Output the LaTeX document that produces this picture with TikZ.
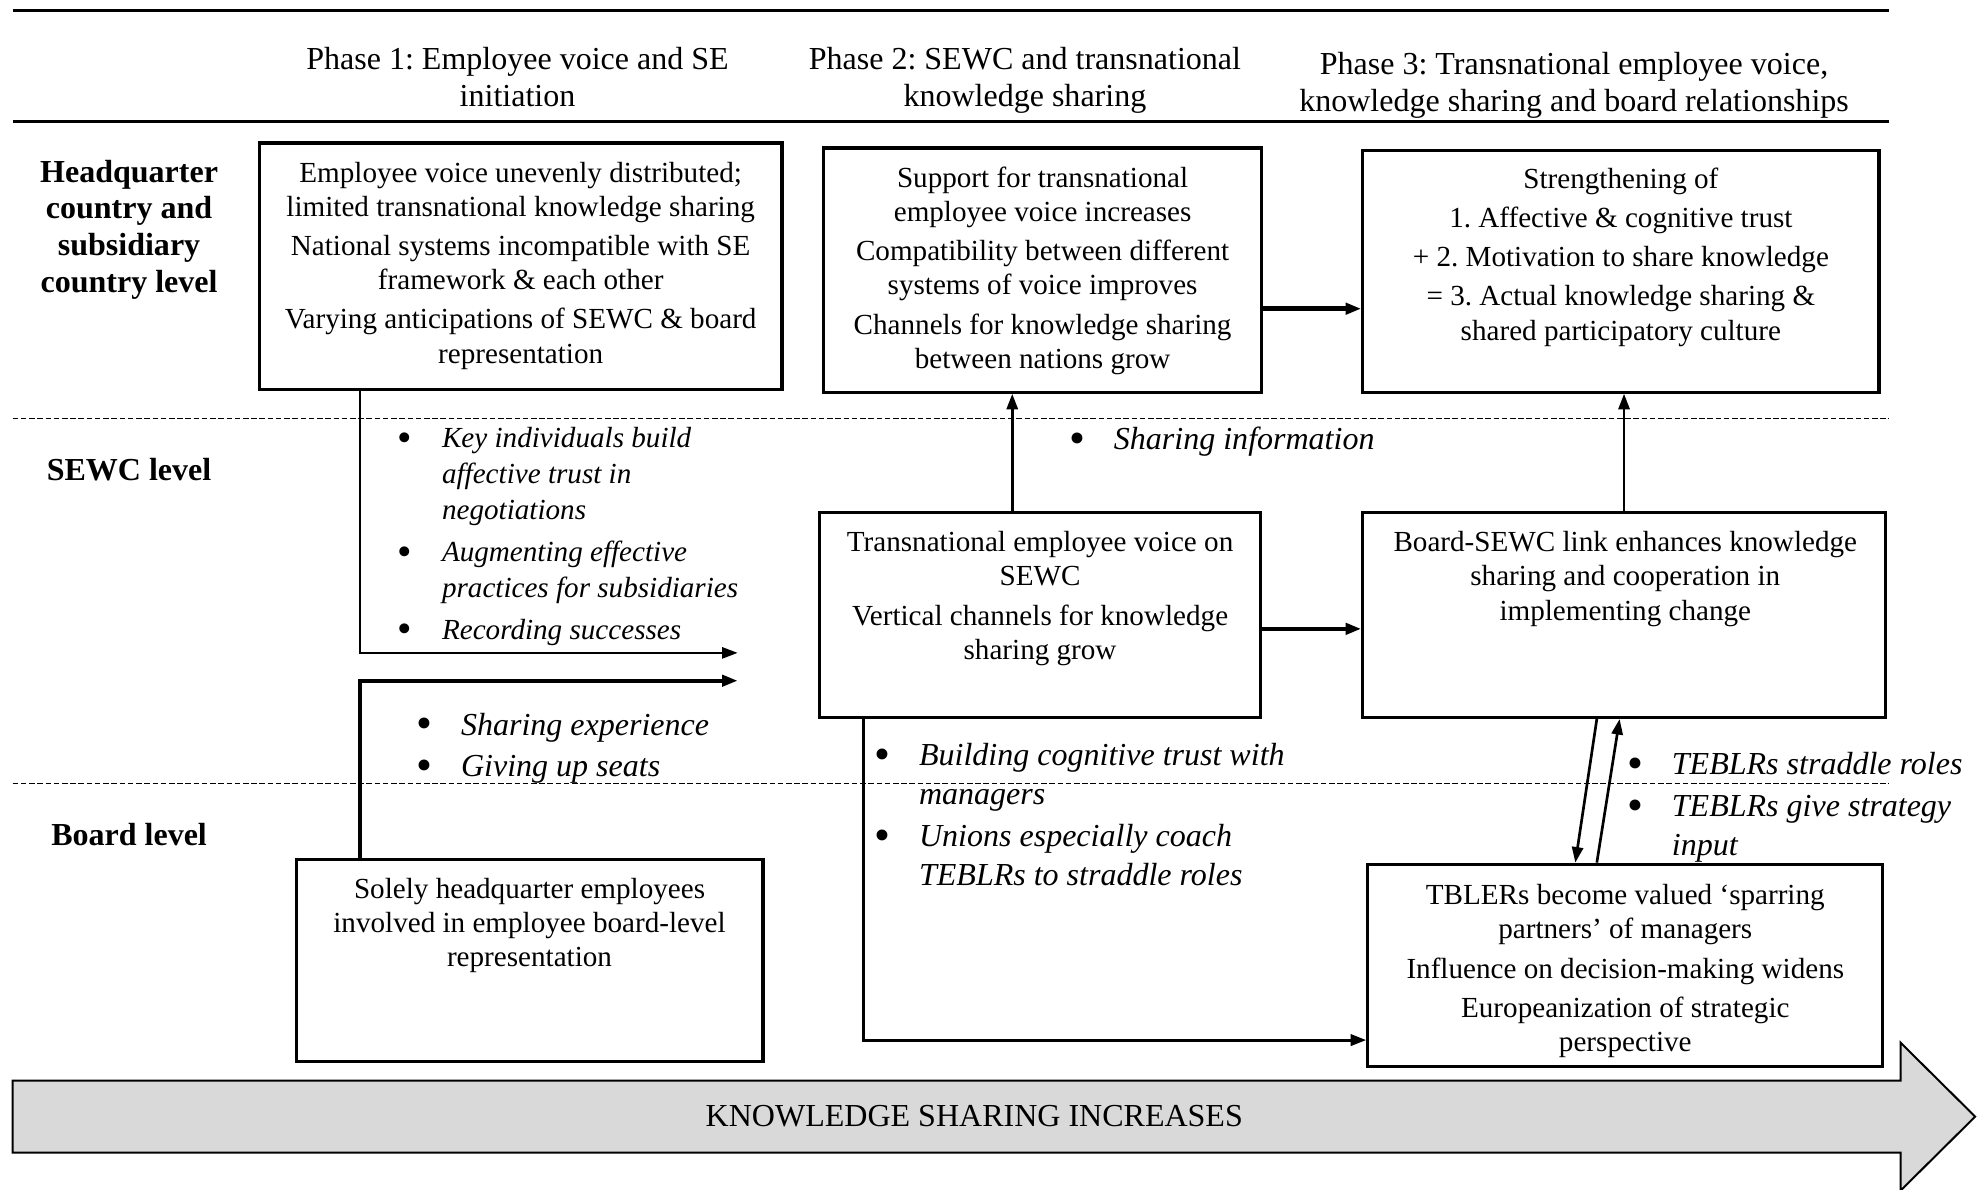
\documentclass[tikz,border=0pt]{standalone}
\usepackage{fontspec}
\setmainfont{Liberation Serif}
\usepackage{graphicx}
\usepackage{tikz}
\usetikzlibrary{arrows.meta, positioning, calc}
\frenchspacing
\newcommand{\boxlines}[1]{\begin{tabular}[t]{@{}c@{}}#1\end{tabular}}
\newcommand{\itemlines}[1]{\begin{tabular}[t]{@{}p{0.7cm}@{}l@{}}#1\end{tabular}}
\newcommand{\blt}{\raisebox{-0.12em}{\scalebox{1.42}{\upshape\textbullet}}}
\tikzset{
  box/.style={rectangle, draw=black, line width=1.4pt, inner sep=0pt},
  boxtext/.style={anchor=base, inner sep=0pt, font=\fontsize{13.1}{15.4}\selectfont},
  phasetext/.style={anchor=base, inner sep=0pt, font=\fontsize{14.4}{16.5}\selectfont},
  leveltext/.style={anchor=base, inner sep=0pt, font=\fontsize{14.4}{16.5}\selectfont\bfseries},
  bullets/.style={anchor=base west, inner sep=0pt, font=\fontsize{14.4}{17.6}\selectfont\itshape},
  smallbullets/.style={bullets, font=\fontsize{13.1}{16.2}\selectfont\itshape},
  levelline/.style={line width=0.6pt, dash pattern=on 2.5pt off 1.2pt},
  rule/.style={line width=1.3pt},
  arrow/.style={-{Triangle[length=7pt,width=5pt]}, line width=1.2pt},
  thickarrow/.style={arrow, line width=2pt},
  bigarrow/.style={draw=black, line width=0.9pt, fill=black!15}
}
\begin{document}
\begin{tikzpicture}
  \useasboundingbox (0,0) rectangle (31.36,18.8);
  % Header rules
  \draw[rule] (0.2,18.64) -- (29.86,18.64);
  \draw[rule] (0.2,16.88) -- (29.86,16.88);
  % Phase headers
  \node[phasetext] (phase1) at (8.18,17.70) {\boxlines{Phase 1: Employee voice and SE\\ initiation}};
  \node[phasetext] (phase2) at (16.20,17.70) {\boxlines{Phase 2: SEWC and transnational\\ knowledge sharing}};
  \node[phasetext] (phase3) at (24.88,17.62) {\boxlines{Phase 3: Transnational employee voice,\\ knowledge sharing and board relationships}};
  % Level separators
  \draw[levelline] (0.2,12.18) -- (29.86,12.18);
  \draw[levelline] (0.2,6.42) -- (29.86,6.42);
  % Level labels
  \node[leveltext] (hqlevel) at (2.04,15.92) {\boxlines{Headquarter\\ country and\\ subsidiary\\ country level}};
  \node[leveltext] (sewclevel) at (2.04,11.20) {SEWC level};
  \node[leveltext] (boardlevel) at (2.04,5.44) {Board level};
  % Boxes
  \node[box, minimum width=8.26cm, minimum height=3.90cm] (hq1) at (8.23,14.59) {};
  \node[box, minimum width=6.92cm, minimum height=3.86cm] (hq2) at (16.48,14.53) {};
  \node[box, minimum width=8.16cm, minimum height=3.82cm] (hq3) at (25.62,14.51) {};
  \node[box, minimum width=6.96cm, minimum height=3.24cm] (sewc2) at (16.44,9.08) {};
  \node[box, minimum width=8.26cm, minimum height=3.24cm] (sewc3) at (25.67,9.08) {};
  \node[box, minimum width=7.38cm, minimum height=3.20cm] (board1) at (8.37,3.62) {};
  \node[box, minimum width=8.14cm, minimum height=3.20cm] (board3) at (25.69,3.54) {};
  % Box texts
  \node[boxtext] (hq1text) at (8.23,15.92) {\boxlines{Employee voice unevenly distributed;\\ limited transnational knowledge sharing\\[2.2pt] National systems incompatible with SE\\ framework \& each other\\[2.2pt] Varying anticipations of SEWC \& board\\ representation}};
  \node[boxtext] (hq2text) at (16.48,15.84) {\boxlines{Support for transnational\\ employee voice increases\\[2.2pt] Compatibility between different\\ systems of voice improves\\[2.2pt] Channels for knowledge sharing\\ between nations grow}};
  \node[boxtext] (hq3text) at (25.62,15.82) {\boxlines{Strengthening of\\[2.2pt] 1. Affective \& cognitive trust\\[2.2pt] + 2. Motivation to share knowledge\\[2.2pt] = 3. Actual knowledge sharing \&\\ shared participatory culture}};
  \node[boxtext] (sewc2text) at (16.44,10.08) {\boxlines{Transnational employee voice on\\ SEWC\\[2.2pt] Vertical channels for knowledge\\ sharing grow}};
  \node[boxtext] (sewc3text) at (25.69,10.08) {\boxlines{Board-SEWC link enhances knowledge\\ sharing and cooperation in\\ implementing change}};
  \node[boxtext] (board1text) at (8.37,4.60) {\boxlines{Solely headquarter employees\\ involved in employee board-level\\ representation}};
  \node[boxtext] (board3text) at (25.69,4.50) {\boxlines{TBLERs become valued ‘sparring\\ partners’ of managers\\[2.2pt] Influence on decision-making widens\\[2.2pt] Europeanization of strategic\\ perspective}};
  % Bullet lists
  \node[smallbullets] (trustlist) at (6.28,11.72) {\itemlines{\blt & Key individuals build\\ & affective trust in\\ & negotiations\\[2.5pt] \blt & Augmenting effective\\ & practices for subsidiaries\\[2.5pt] \blt & Recording successes}};
  \node[bullets] (seatlist) at (6.58,7.18) {\itemlines{\blt & Sharing experience\\[1.2pt] \blt & Giving up seats}};
  \node[bullets] (infolist) at (16.90,11.70) {\itemlines{\blt & Sharing information}};
  \node[bullets] (managerlist) at (13.82,6.70) {\itemlines{\blt & Building cognitive trust with\\ & managers\\[1.2pt] \blt & Unions especially coach\\ & TEBLRs to straddle roles}};
  \node[bullets] (teblrlist) at (25.72,6.56) {\itemlines{\blt & TEBLRs straddle roles\\[1.2pt] \blt & TEBLRs give strategy\\ & input}};
  % Connectors
  \coordinate (sewcin1) at (11.66,8.48);
  \coordinate (sewcin2) at (11.66,8.04);
  \coordinate (hq1out) at ([xshift=1.62cm]hq1.south west);
  \coordinate (board1out) at ([xshift=1.04cm]board1.north west);
  \draw[arrow, line width=1pt] (hq1out) |- (sewcin1);
  \draw[arrow, line width=1.7pt] (board1out) |- (sewcin2);
  \coordinate (sewc2up) at ([xshift=-0.44cm]sewc2.north);
  \draw[arrow] (sewc2up) -- (sewc2up |- hq2.south);
  \coordinate (hq2out) at ([yshift=-0.61cm]hq2.east);
  \draw[thickarrow] (hq2out) -- (hq2out -| hq3.west);
  \coordinate (sewc2out) at ([yshift=-0.22cm]sewc2.east);
  \draw[thickarrow] (sewc2out) -- (sewc2out -| sewc3.west);
  \draw[arrow] (sewc3.north) -- (sewc3.north |- hq3.south);
  \coordinate (sewc2down) at ([xshift=0.72cm]sewc2.south west);
  \coordinate (board3in) at ([yshift=-1.18cm]board3.west);
  \draw[arrow, line width=1.4pt] (sewc2down) |- (board3in);
  \draw[arrow] ([xshift=-0.43cm]sewc3.south) -- ([xshift=-0.79cm]board3.north);
  \draw[arrow] ([xshift=-0.45cm]board3.north) -- ([xshift=-0.07cm]sewc3.south);
  % Knowledge sharing arrow
  \draw[bigarrow] (0.2,1.72) -- (30.04,1.72) -- (30.04,2.32) -- (31.22,1.15)
    -- (30.04,-0.02) -- (30.04,0.58) -- (0.2,0.58) -- cycle;
  \node[phasetext, anchor=center] (kstext) at (15.4,1.15) {KNOWLEDGE SHARING INCREASES};
\end{tikzpicture}
\end{document}
